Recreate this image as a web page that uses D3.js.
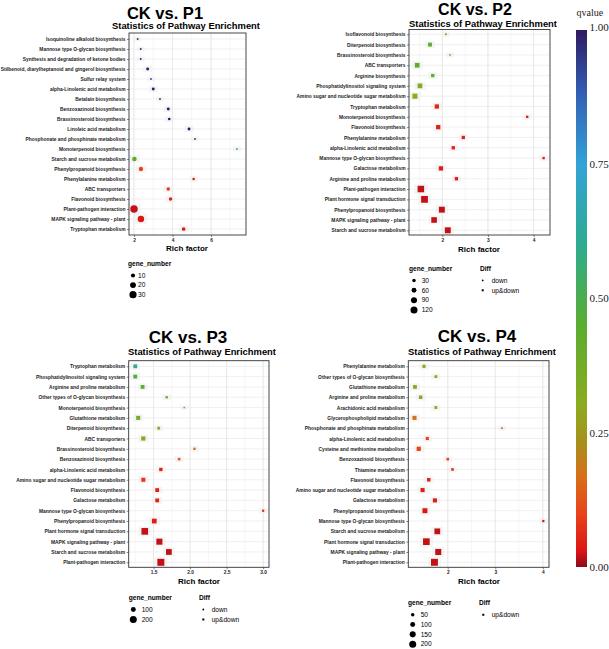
<!DOCTYPE html>
<html><head><meta charset="utf-8">
<script src="https://cdn.jsdelivr.net/npm/d3@7"></script>
<style>body{margin:0;background:#fff}svg{display:block}</style>
</head><body>
<svg id="chart" width="609" height="649"></svg>
<script>
// ---------- DATA ----------
const p1Pathways = ["Isoquinoline alkaloid biosynthesis","Mannose type O-glycan biosynthesis","Synthesis and degradation of ketone bodies","Stilbenoid, diarylheptanoid and gingerol biosynthesis","Sulfur relay system","alpha-Linolenic acid metabolism","Betalain biosynthesis","Benzoxazinoid biosynthesis","Brassinosteroid biosynthesis","Linoleic acid metabolism","Phosphonate and phosphinate metabolism","Monoterpenoid biosynthesis","Starch and sucrose metabolism","Phenylpropanoid biosynthesis","Phenylalanine metabolism","ABC transporters","Flavonoid biosynthesis","Plant-pathogen interaction","MAPK signaling pathway - plant","Tryptophan metabolism"];
const p1Rich = [2.19,2.35,2.35,2.71,2.88,3.0,3.35,3.78,3.83,4.86,5.17,7.35,2.02,2.36,5.1,3.78,3.9,2.0,2.36,4.58];
const p1Genes = [2,2,2,5,2,5,2,5,4,5,2,2,12,11,4,7,7,32,24,8];
const p1Q = [0.97,0.97,0.97,1.0,0.93,1.0,0.97,1.0,1.0,1.0,0.95,0.7,0.45,0.1,0.05,0.08,0.05,0.02,0.03,0.04];
const p1Diff = p1Pathways.map(() => "all");

const p2Pathways = ["Isoflavonoid biosynthesis","Diterpenoid biosynthesis","Brassinosteroid biosynthesis","ABC transporters","Arginine biosynthesis","Phosphatidylinositol signaling system","Amino sugar and nucleotide sugar metabolism","Tryptophan metabolism","Monoterpenoid biosynthesis","Flavonoid biosynthesis","Phenylalanine metabolism","alpha-Linolenic acid metabolism","Mannose type O-glycan biosynthesis","Galactose metabolism","Arginine and proline metabolism","Plant-pathogen interaction","Plant hormone signal transduction","Phenylpropanoid biosynthesis","MAPK signaling pathway - plant","Starch and sucrose metabolism"];
const p2Rich = [2.08,1.73,2.17,1.45,1.79,1.51,1.40,1.88,3.86,1.91,2.46,2.24,4.22,1.97,2.31,1.53,1.61,1.99,1.82,2.12];
const p2Genes = [10,40,8,60,30,60,70,50,15,50,30,30,15,50,30,115,125,95,85,95];
const p2Q = [0.45,0.45,0.42,0.43,0.43,0.33,0.3,0.06,0.04,0.05,0.05,0.05,0.04,0.04,0.04,0.02,0.02,0.02,0.02,0.02];
const p2Diff = ["down","up&down","down","up&down","up&down","up&down","up&down","up&down","up&down","up&down","up&down","up&down","up&down","up&down","up&down","up&down","up&down","up&down","up&down","up&down"];

const p3Pathways = ["Tryptophan metabolism","Phosphatidylinositol signaling system","Arginine and proline metabolism","Other types of O-glycan biosynthesis","Monoterpenoid biosynthesis","Glutathione metabolism","Diterpenoid biosynthesis","ABC transporters","Brassinosteroid biosynthesis","Benzoxazinoid biosynthesis","alpha-Linolenic acid metabolism","Amino sugar and nucleotide sugar metabolism","Flavonoid biosynthesis","Galactose metabolism","Mannose type O-glycan biosynthesis","Phenylpropanoid biosynthesis","Plant hormone signal transduction","MAPK signaling pathway - plant","Starch and sucrose metabolism","Plant-pathogen interaction"];
const p3Rich = [1.25,1.25,1.35,1.68,1.92,1.29,1.57,1.36,2.06,1.85,1.60,1.36,1.55,1.55,3.0,1.51,1.38,1.58,1.71,1.60];
const p3Genes = [65,65,65,25,10,75,35,80,25,30,50,75,65,65,20,100,200,165,150,220];
const p3Q = [0.62,0.48,0.45,0.42,0.38,0.36,0.3,0.28,0.17,0.14,0.05,0.08,0.05,0.05,0.04,0.04,0.02,0.02,0.02,0.02];
const p3Diff = ["up&down","up&down","up&down","up&down","down","up&down","up&down","up&down","up&down","up&down","up&down","up&down","up&down","up&down","up&down","up&down","up&down","up&down","up&down","up&down"];

const p4Pathways = ["Phenylalanine metabolism","Other types of O-glycan biosynthesis","Glutathione metabolism","Arginine and proline metabolism","Arachidonic acid metabolism","Glycerophospholipid metabolism","Phosphonate and phosphinate metabolism","alpha-Linolenic acid metabolism","Cysteine and methionine metabolism","Benzoxazinoid biosynthesis","Thiamine metabolism","Flavonoid biosynthesis","Amino sugar and nucleotide sugar metabolism","Galactose metabolism","Phenylpropanoid biosynthesis","Mannose type O-glycan biosynthesis","Starch and sucrose metabolism","Plant hormone signal transduction","MAPK signaling pathway - plant","Plant-pathogen interaction"];
const p4Rich = [1.50,1.75,1.31,1.43,1.75,1.30,3.14,1.57,1.39,2.0,2.10,1.60,1.47,1.73,1.52,4.01,1.78,1.55,1.80,1.72];
const p4Genes = [45,35,65,55,35,75,12,45,80,30,30,55,75,75,110,22,150,200,165,215];
const p4Q = [0.33,0.3,0.32,0.32,0.27,0.17,0.12,0.1,0.1,0.1,0.06,0.05,0.04,0.04,0.03,0.03,0.02,0.02,0.02,0.02];
const p4Diff = p4Pathways.map(() => "up&down");

const titles = ["CK vs. P1","CK vs. P2","CK vs. P3","CK vs. P4"];
const subtitle = "Statistics of Pathway Enrichment";
const p1Ticks = [2,4,6], p2Ticks = [2,3,4], p3Ticks = [1.5,2.0,2.5,3.0], p4Ticks = [2,3,4];
const p1Legend = [10,20,30], p2Legend = [30,60,90,120], p3Legend = [100,200], p4Legend = [50,100,150,200];
const p2DiffLegend = ["down","up&down"], p3DiffLegend = ["down","up&down"], p4DiffLegend = ["up&down"];
const qTicks = [0,0.25,0.5,0.75,1];

// ---------- STYLE / LAYOUT ----------
const FONT = "'Liberation Sans', Arial, Helvetica, sans-serif";
const SERIF = "'Liberation Serif','Times New Roman',serif";
const qStops = [0,0.03,0.1,0.17,0.23,0.3,0.45,0.6,0.75,0.88,1];
const qColors = ["#8b0a1a","#dd1515","#e8441a","#d7701a","#a88f1c","#8cab20","#5aad2e","#2eab8f","#33a3d6","#3360b5","#2f1a62"];
const color = d3.scaleLinear().domain(qStops).range(qColors).interpolate(d3.interpolateRgb);

const svg = d3.select("#chart");

const panels = [
  {path:p1Pathways, rich:p1Rich, genes:p1Genes, q:p1Q, diff:p1Diff, ticks:p1Ticks, fmt:d3.format("d"), leg:p1Legend, dleg:null,
   fx0:129, fx1:246, fy0:33, fy1:235, ry0:39, ry1:229, dom:[1.74,7.82], rmax:3.6, gmax:30,
   tx:165, ty:18.5, tsz:16.5, sx:112, sy:29, rfx:187, rfy:251, lx:128, ly:264, lstep:9.6, lsym:133, ltxt:138},
  {path:p2Pathways, rich:p2Rich, genes:p2Genes, q:p2Q, diff:p2Diff, ticks:p2Ticks, fmt:d3.format("d"), leg:p2Legend, dleg:p2DiffLegend,
   fx0:409, fx1:550, fy0:29.5, fy1:235, ry0:34.3, ry1:230.3, dom:[1.27,4.36], rmax:3.5, gmax:120,
   tx:475, ty:14.5, tsz:16, sx:409, sy:26.5, rfx:479, rfy:252, lx:409, ly:268.5, lstep:9.9, lsym:414, ltxt:421.7, dx:480, dsym:482.7, dtxt:491.7},
  {path:p3Pathways, rich:p3Rich, genes:p3Genes, q:p3Q, diff:p3Diff, ticks:p3Ticks, fmt:d3.format(".1f"), leg:p3Legend, dleg:p3DiffLegend,
   fx0:128.7, fx1:269, fy0:360.7, fy1:567.3, ry0:366.3, ry1:562.3, dom:[1.16,3.08], rmax:3.5, gmax:200,
   tx:188, ty:342.5, tsz:17, sx:128, sy:355, rfx:199, rfy:584, lx:128.7, ly:597.5, lstep:10, lsym:133.3, ltxt:141.7, dx:199, dsym:203.3, dtxt:211.7},
  {path:p4Pathways, rich:p4Rich, genes:p4Genes, q:p4Q, diff:p4Diff, ticks:p4Ticks, fmt:d3.format("d"), leg:p4Legend, dleg:p4DiffLegend,
   fx0:408.3, fx1:549, fy0:360.7, fy1:567.3, ry0:366.3, ry1:562.3, dom:[1.17,4.13], rmax:3.5, gmax:200,
   tx:477, ty:342.3, tsz:17, sx:408, sy:355, rfx:479, rfy:584, lx:408, ly:603, lstep:9.8, lsym:412.7, ltxt:420.7, dx:479, dsym:483.3, dtxt:491.7}
];

panels.forEach((p, i) => {
  const g = svg.append("g");
  const x = d3.scaleLinear().domain(p.dom).range([p.fx0, p.fx1]);
  const y = d3.scalePoint().domain(p.path).range([p.ry0, p.ry1]);
  const r = d3.scaleSqrt().domain([0, p.gmax]).range([0, p.rmax]);

  // titles
  g.append("text").attr("x", p.tx).attr("y", p.ty).attr("text-anchor","middle")
    .attr("font-family",FONT).attr("font-weight","bold").attr("font-size",p.tsz).attr("fill","#000").text(titles[i]);
  g.append("text").attr("x", p.sx).attr("y", p.sy)
    .attr("font-family",FONT).attr("font-weight","bold").attr("font-size",9.4).attr("fill","#000").text(subtitle);

  // panel bg + grid
  g.append("rect").attr("x",p.fx0).attr("y",p.fy0).attr("width",p.fx1-p.fx0).attr("height",p.fy1-p.fy0).attr("fill","#fff");
  const step = p.ticks[1]-p.ticks[0];
  const minor = [];
  for (let v = p.ticks[0]-step/2; v <= p.dom[1]; v += step/2) if (v >= p.dom[0]) minor.push(v);
  g.selectAll(null).data(minor).enter().append("line")
    .attr("x1",d=>x(d)).attr("x2",d=>x(d)).attr("y1",p.fy0).attr("y2",p.fy1)
    .attr("stroke","#eeeeee").attr("stroke-width",0.5);
  g.selectAll(null).data(p.ticks).enter().append("line")
    .attr("x1",d=>x(d)).attr("x2",d=>x(d)).attr("y1",p.fy0).attr("y2",p.fy1)
    .attr("stroke","#e3e3e3").attr("stroke-width",0.7);
  g.selectAll(null).data(p.path).enter().append("line")
    .attr("x1",p.fx0).attr("x2",p.fx1).attr("y1",d=>y(d)).attr("y2",d=>y(d))
    .attr("stroke","#e6e6e6").attr("stroke-width",0.6);

  // points
  const data = p.path.map((name, k) => ({name, rich:p.rich[k], genes:p.genes[k], q:p.q[k], diff:p.diff[k]}));
  g.selectAll(null).data(data).enter().append("rect")
    .attr("x",d=>x(d.rich)-r(d.genes)-3).attr("y",d=>y(d.name)-r(d.genes)-1.5)
    .attr("width",d=>2*r(d.genes)+6).attr("height",d=>2*r(d.genes)+3)
    .attr("fill","#ececec").attr("opacity",0.55);
  data.forEach(d => {
    const cx = x(d.rich), cy = y(d.name), rr = r(d.genes);
    if (d.diff === "up&down") {
      const s = rr*1.9;
      g.append("rect").attr("x",cx-s/2).attr("y",cy-s/2).attr("width",s).attr("height",s).attr("fill",color(d.q));
    } else {
      g.append("circle").attr("cx",cx).attr("cy",cy).attr("r",Math.max(rr,0.9)).attr("fill",color(d.q));
    }
  });

  // frame
  g.append("rect").attr("x",p.fx0).attr("y",p.fy0).attr("width",p.fx1-p.fx0).attr("height",p.fy1-p.fy0)
    .attr("fill","none").attr("stroke","#333").attr("stroke-width",0.9);

  // axes
  const ax = g.append("g").attr("transform",`translate(0,${p.fy1})`)
    .call(d3.axisBottom(x).tickValues(p.ticks).tickFormat(p.fmt).tickSize(2).tickPadding(1.5));
  const ay = g.append("g").attr("transform",`translate(${p.fx0},0)`)
    .call(d3.axisLeft(y).tickSize(2).tickPadding(1.5));
  [ax, ay].forEach(a => {
    a.select(".domain").remove();
    a.selectAll("line").attr("stroke","#333").attr("stroke-width",0.6);
    a.selectAll("text").attr("font-family",FONT).attr("font-weight","bold").attr("fill","#222");
  });
  ax.selectAll("text").attr("font-size",4.8);
  ay.selectAll("text").attr("font-size",4.9);

  g.append("text").attr("x",p.rfx).attr("y",p.rfy).attr("text-anchor","middle")
    .attr("font-family",FONT).attr("font-weight","bold").attr("font-size",8).text("Rich factor");

  // legend: gene_number
  g.append("text").attr("x",p.lx).attr("y",p.ly).attr("dy","0.35em")
    .attr("font-family",FONT).attr("font-weight","bold").attr("font-size",6.6).text("gene_number");
  p.leg.forEach((v, k) => {
    const yy = p.ly + p.lstep*(k+1.2);
    g.append("circle").attr("cx",p.lsym).attr("cy",yy).attr("r",r(v)).attr("fill","#000");
    g.append("text").attr("x",p.ltxt).attr("y",yy).attr("dy","0.35em")
      .attr("font-family",FONT).attr("font-size",6.6).text(v);
  });
  if (p.dleg) {
    g.append("text").attr("x",p.dx).attr("y",p.ly).attr("dy","0.35em")
      .attr("font-family",FONT).attr("font-weight","bold").attr("font-size",6.6).text("Diff");
    p.dleg.forEach((v, k) => {
      const yy = p.ly + p.lstep*(k+1.2);
      if (v === "down") g.append("circle").attr("cx",p.dsym).attr("cy",yy).attr("r",0.9).attr("fill","#000");
      else g.append("rect").attr("x",p.dsym-1).attr("y",yy-1).attr("width",2).attr("height",2).attr("fill","#000");
      g.append("text").attr("x",p.dtxt).attr("y",yy).attr("dy","0.35em")
        .attr("font-family",FONT).attr("font-size",6.6).text(v);
    });
  }
});

// ---------- colour bar ----------
const cbY = d3.scaleLinear().domain([0,1]).range([567,30]);
const defs = svg.append("defs");
const grad = defs.append("linearGradient").attr("id","qgrad").attr("x1",0).attr("y1",1).attr("x2",0).attr("y2",0);
qStops.forEach((s,k) => grad.append("stop").attr("offset",s).attr("stop-color",qColors[k]));
svg.append("rect").attr("x",576).attr("y",cbY(1)).attr("width",11).attr("height",cbY(0)-cbY(1)).attr("fill","url(#qgrad)");
svg.append("text").attr("x",576.5).attr("y",15.5).attr("font-family",SERIF)
  .attr("font-size",10).attr("fill","#222").text("qvalue");
svg.selectAll(null).data(qTicks).enter().append("text")
  .attr("x",589.5).attr("y",d=>cbY(d)).attr("dy", d => d===1 ? "0.1em" : "0.35em")
  .attr("font-family",SERIF).attr("font-size",11).attr("fill","#222")
  .text(d=>d3.format(".2f")(d));
</script>
</body></html>
